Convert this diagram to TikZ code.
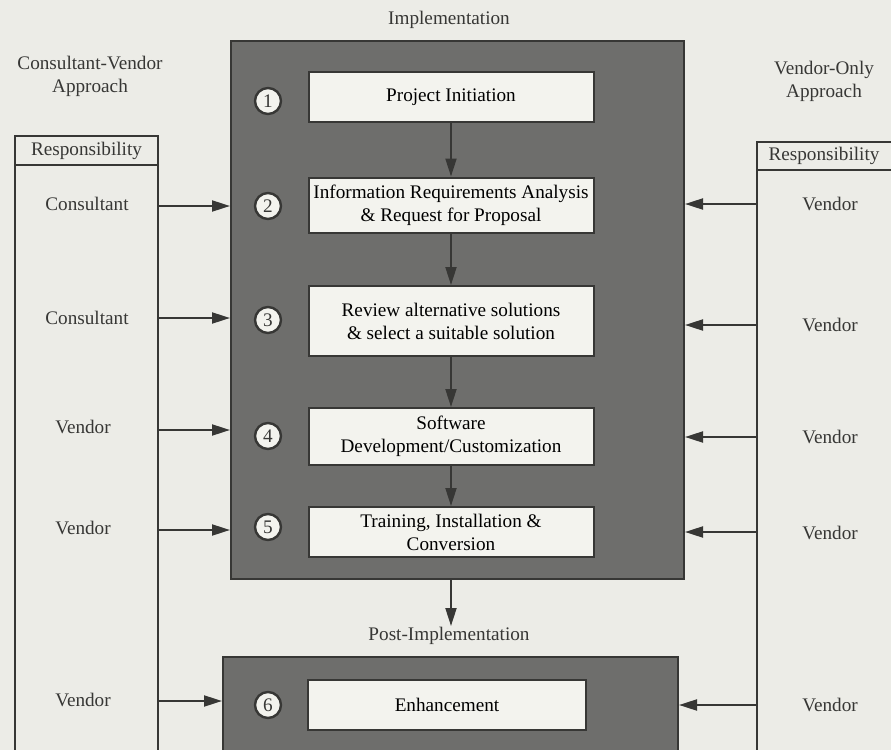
\documentclass[tikz,border=0pt]{standalone}
\usepackage{fontspec}
\setmainfont{Liberation Serif}
\usetikzlibrary{arrows.meta,positioning}
\definecolor{pageBg}{RGB}{236,236,231}
\definecolor{phaseGray}{RGB}{110,110,108}
\definecolor{inkDark}{RGB}{55,55,53}
\definecolor{stepFill}{RGB}{243,243,238}
\tikzset{
  phasebox/.style={draw=inkDark, line width=1pt, fill=phaseGray,
    anchor=north west, inner sep=0pt},
  stepbox/.style={draw=inkDark, line width=1pt, fill=stepFill,
    minimum width=142.5pt, align=center, inner sep=0pt},
  numdot/.style={circle, draw=inkDark, line width=1.2pt, fill=stepFill,
    minimum size=13pt, inner sep=0pt},
  flowarr/.style={-{Triangle[length=9pt,width=5.5pt]}, line width=1pt, inkDark},
  panelln/.style={draw=inkDark, line width=0.9pt},
  txt/.style={text=inkDark, align=center},
}
\begin{document}
\begin{tikzpicture}[x=0.5pt, y=-0.5pt, font=\fontsize{9.6}{11.5}\selectfont]
  % page
  \fill[pageBg] (0,0) rectangle (891,750);
  \clip (0,0) rectangle (891,750);
  % the two phase panels
  \node[phasebox, minimum width=226.5pt, minimum height=269pt] (impl) at (230,40) {};
  \node[phasebox, minimum width=227.5pt, minimum height=60pt] (post) at (222,656) {};
  \node[txt] (impltitle) at (449,20) {Implementation};
  \node[txt] (posttitle) at (449,636) {Post-Implementation};
  % steps
  \node[stepbox, minimum height=25pt] (s1) at (451,97) {Project Initiation};
  \node[stepbox, minimum height=27.5pt] (s2) at (451,205)
    {Information Requirements Analysis\\ \& Request for Proposal};
  \node[stepbox, minimum height=35pt] (s3) at (451,321)
    {Review alternative solutions\\ \& select a suitable solution};
  \node[stepbox, minimum height=28.5pt] (s4) at (451,436.5)
    {Software\\ Development/Customization};
  \node[stepbox, minimum height=25pt] (s5) at (451,532)
    {Training, Installation \&\\ Conversion};
  \node[stepbox, minimum height=25pt, minimum width=139pt] (s6) at (447,705) {Enhancement};
  % step numbers
  \foreach \n/\yy in {1/101,2/206,3/320,4/436,5/527,6/705}
    \node[numdot, txt] (n\n) at (268,\yy) {\n};
  % flow between steps
  \draw[flowarr] (s1.south) -- (s2.north);
  \draw[flowarr] (s2.south) -- (s3.north);
  \draw[flowarr] (s3.south) -- (s4.north);
  \draw[flowarr] (s4.south) -- (s5.north);
  \coordinate (implout) at (impl.south -| s5.south);
  \coordinate (postin) at (implout |- 0,626);
  \draw[flowarr] (implout) -- (postin);
  % responsibility panels
  \draw[panelln] (15,760) -- (15,136) -- (158,136) -- (158,760);
  \draw[panelln] (15,165) -- (158,165);
  \draw[panelln] (757,760) -- (757,142) -- (900,142);
  \draw[panelln] (757,170) -- (900,170);
  \node[txt] (lhead) at (86.5,151) {Responsibility};
  \node[txt] (rhead) at (824,156) {Responsibility};
  \node[txt] (ltitle) at (90,76) {Consultant-Vendor\\ Approach};
  \node[txt] (rtitle) at (824,81) {Vendor-Only\\ Approach};
  % who does what
  \node[txt] (l2) at (87,204) {Consultant};
  \node[txt] (l3) at (87,318) {Consultant};
  \node[txt] (l4) at (83,427) {Vendor};
  \node[txt] (l5) at (83,528) {Vendor};
  \node[txt] (l6) at (83,700) {Vendor};
  \node[txt] (r2) at (830,204) {Vendor};
  \node[txt] (r3) at (830,325) {Vendor};
  \node[txt] (r4) at (830,437) {Vendor};
  \node[txt] (r5) at (830,533) {Vendor};
  \node[txt] (r6) at (830,705) {Vendor};
  \coordinate (lpanel) at (158,0);
  \coordinate (rpanel) at (757,0);
  \foreach \k/\yy in {2/206,3/318,4/430,5/530}
    \draw[flowarr] (lpanel |- 0,\yy) -- (impl.west |- 0,\yy);
  \draw[flowarr] (lpanel |- 0,701) -- (post.west |- 0,701);
  \foreach \k/\yy in {2/204,3/325,4/437,5/532}
    \draw[flowarr] (rpanel |- 0,\yy) -- (impl.east |- 0,\yy);
  \draw[flowarr] (rpanel |- 0,705) -- (post.east |- 0,705);
\end{tikzpicture}
\end{document}
